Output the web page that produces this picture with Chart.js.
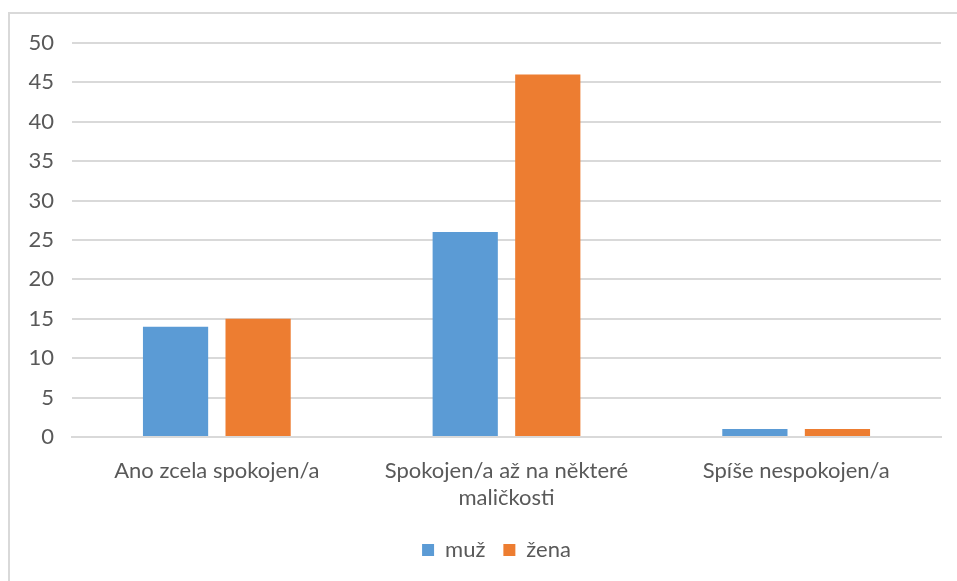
<!DOCTYPE html>
<html>
<head>
<meta charset="utf-8">
<script src="https://cdn.jsdelivr.net/npm/chart.js@4/dist/chart.umd.min.js"></script>
<style>
    html, body { margin: 0; padding: 0; background: #fff; overflow: hidden; }
    #frame {
        position: absolute; left: 8px; top: 12px;
        width: 980px; height: 600px;
        border: 2px solid #d9d9d9; box-sizing: border-box;
    }
    #wrap { position: absolute; left: 0; top: 0; width: 957px; height: 581px; }
</style>
</head>
<body>
<div id="frame"></div>
<div id="wrap"><canvas id="chart"></canvas></div>
<script>
    const categories = [
        "Ano zcela spokojen/a",
        ["Spokojen/a až na některé", "maličkosti"],
        "Spíše nespokojen/a"
    ];
    const seriesNames = ["muž", "žena"];
    const muzValues = [14, 26, 1];
    const zenaValues = [15, 46, 1];
    const seriesColors = ["#5b9bd5", "#ed7d31"];

    const textColor = "#595959";
    const gridColor = "#d9d9d9";
    const fontFamily = "Lato, 'Open Sans', sans-serif";
    const fontSize = 22;

    Chart.defaults.font.family = fontFamily;
    Chart.defaults.color = textColor;

    // Legend in the original sits centred under the plot area, not the canvas.
    const legendShift = {
        id: "legendShift",
        afterLayout: (chart) => {
            const legend = chart.legend;
            if (!legend) {
                return;
            }
            legend.left += 26;
            legend.right += 26;
        }
    };

    const ctx = document.getElementById("chart").getContext("2d");

    new Chart(ctx, {
        type: "bar",
        data: {
            labels: categories,
            datasets: [
                { label: seriesNames[0], data: muzValues, backgroundColor: seriesColors[0] },
                { label: seriesNames[1], data: zenaValues, backgroundColor: seriesColors[1] }
            ]
        },
        options: {
            responsive: true,
            maintainAspectRatio: false,
            animation: false,
            categoryPercentage: 0.57,
            barPercentage: 0.79,
            layout: {
                padding: { top: 43, right: 16, left: 0, bottom: 10 }
            },
            plugins: {
                legend: {
                    position: "bottom",
                    labels: {
                        boxWidth: 12,
                        boxHeight: 12,
                        padding: 18,
                        font: { size: fontSize },
                        color: textColor
                    }
                },
                tooltip: { enabled: false }
            },
            scales: {
                x: {
                    grid: { display: false, drawTicks: false },
                    border: { color: gridColor, width: 2 },
                    ticks: {
                        font: { size: fontSize, lineHeight: 1.25 },
                        color: textColor,
                        padding: 20,
                        maxRotation: 0
                    },
                    afterFit: (scale) => { scale.height = 84; }
                },
                y: {
                    min: 0,
                    max: 50,
                    ticks: {
                        stepSize: 5,
                        font: { size: fontSize },
                        color: textColor,
                        padding: 18
                    },
                    grid: { color: gridColor, lineWidth: 2, drawTicks: false },
                    border: { display: false },
                    afterFit: (scale) => { scale.width = 72; }
                }
            }
        },
        plugins: [legendShift]
    });
</script>
</body>
</html>
